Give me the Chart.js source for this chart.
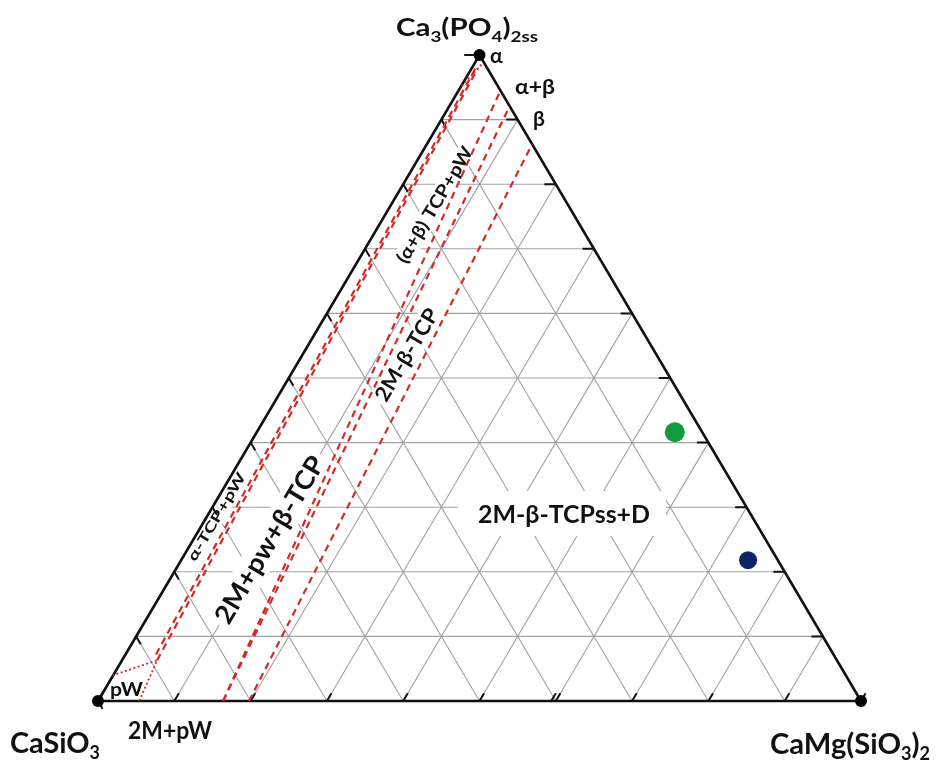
<!DOCTYPE html>
<html>
<head>
<meta charset="utf-8">
<script src="https://cdn.jsdelivr.net/npm/chart.js@4.4.1/dist/chart.umd.min.js"></script>
<style>
  html, body { margin: 0; padding: 0; background: #fff; }
  #wrap { width: 938px; height: 765px; }
</style>
</head>
<body>
<div id="wrap"><canvas id="c" width="938" height="765"></canvas></div>
<script>
// Compositions are in mol %: [Ca3(PO4)2, CaMg(SiO3)2]; CaSiO3 makes up the rest.
const gridLevels = [10, 20, 30, 40, 50, 60, 70, 80, 90];

// Phase-field boundaries, each a polyline of [Ca3(PO4)2 %, CaMg(SiO3)2 %]
const alphaLineA   = [[7.2, 4.0], [98, 0.5]];
const alphaLineB   = [[6.3, 4.6], [98, 0.8]];
const pwField      = [[0, 5.4], [6.3, 4.6], [4, 0]];
const alphaCorner  = [[98.5, 1.0], [94.9, 0]];
const alphaBetaA   = [[0, 16.4], [94.5, 5.5]];
const alphaBetaB   = [[0, 16.4], [92.1, 7.9]];
const betaLine     = [[0, 19.8], [86.2, 13.8]];

// Samples [Ca3(PO4)2 %, CaMg(SiO3)2 %]
const sampleGreen = [41.6, 54.8];
const sampleBlue  = [21.8, 74.3];

// ternary -> cartesian (unit triangle, apex at x = 0.5)
const toXY = (a, c) => ({ x: (c + a / 2) / 100, y: a / 100 });
function polylines(list) {
  const out = [];
  list.forEach((pl, i) => {
    if (i) out.push({ x: null, y: null });
    pl.forEach(p => out.push(toXY(p[0], p[1])));
  });
  return out;
}

// grid lines
const gridH = gridLevels.map(k => [[k, 0], [k, 100 - k]]);
const gridC = gridLevels.map(k => [[0, k], [100 - k, k]]);
const gridB = gridLevels.map(k => [[0, 100 - k], [100 - k, 0]]);

// edge ticks
const ticks = [];
gridLevels.forEach(k => {
  ticks.push([[0, k], [1.2, k]]);                       // bottom edge
  ticks.push([[k, 100 - k], [k, 100 - k - 1.5]]);       // right edge
  ticks.push([[100 - k, 0], [100 - k - 1.2, 1.2]]);     // left edge
});
ticks.push([[0, 59.4], [1.2, 59.4]]);
ticks.push([[100, 0], [100, -2]]);
ticks.push([[0, 0], [-1.2, 1.2]]);
ticks.push([[0, 100], [1.2, 100]]);

const edges = [[[0, 0], [100, 0], [0, 100], [0, 0]]];

const RED = '#d42a24';
const lineDs = (label, lines, color, width, dash, order) => ({
  label, data: polylines(lines), showLine: true, borderColor: color, borderWidth: width,
  borderDash: dash, pointRadius: 0, pointHoverRadius: 0, clip: false, order, spanGaps: false,
  borderCapStyle: 'butt'
});

const datasets = [
  lineDs('grid', [...gridH, ...gridC, ...gridB], '#a2a2a2', 1.1, [], 20),
  lineDs('ticks', ticks, '#111', 2, [], 15),
  lineDs('edges', edges, '#111', 2.6, [], 14),
  lineDs('alphaA', [alphaLineA], RED, 2.2, [7, 5], 10),
  lineDs('alphaB', [alphaLineB], RED, 2.2, [7, 5], 10),
  lineDs('abA', [alphaBetaA], RED, 2.2, [7, 5], 10),
  lineDs('abB', [alphaBetaB], RED, 2.2, [7, 5], 10),
  lineDs('beta', [betaLine], RED, 2.2, [7, 5], 10),
  lineDs('pw', [pwField, alphaCorner], RED, 1.8, [2, 2.5], 10),
  {
    label: 'vertices', data: [toXY(100, 0), toXY(0, 0), toXY(0, 100)],
    pointRadius: 6, pointBackgroundColor: '#000', pointBorderWidth: 0, clip: false, order: 3
  },
  {
    label: 'green', data: [toXY(...sampleGreen)], pointRadius: 10,
    pointBackgroundColor: '#119a3f', pointBorderWidth: 0, clip: false, order: 2
  },
  {
    label: 'blue', data: [toXY(...sampleBlue)], pointRadius: 9,
    pointBackgroundColor: '#0d2466', pointBorderWidth: 0, clip: false, order: 2
  }
];

const ANG = -Math.atan2(646, 384);
const FONT = 'Lato, "Open Sans", sans-serif';

// rich text: parts = [[text, isSub]]
function richWidth(ctx, parts, size) {
  let w = 0;
  parts.forEach(([t, sub]) => {
    ctx.font = `bold ${sub ? Math.round(size * 0.62) : size}px ${FONT}`;
    w += ctx.measureText(t).width;
  });
  return w;
}
function drawRich(ctx, parts, x, y, size, width) {
  const nat = richWidth(ctx, parts, size);
  const sx = width ? width / nat : 1;
  ctx.save();
  ctx.translate(x, y);
  ctx.scale(sx, 1);
  ctx.fillStyle = '#111';
  ctx.textBaseline = 'alphabetic';
  ctx.textAlign = 'left';
  let cx = 0;
  parts.forEach(([t, sub]) => {
    const s = sub ? Math.round(size * 0.62) : size;
    ctx.font = `bold ${s}px ${FONT}`;
    ctx.fillText(t, cx, sub ? size * 0.22 : 0);
    cx += ctx.measureText(t).width;
  });
  ctx.restore();
}
function drawRotated(ctx, text, cx, cy, size, length) {
  ctx.save();
  ctx.translate(cx, cy);
  ctx.rotate(ANG);
  ctx.font = `bold ${size}px ${FONT}`;
  const nat = ctx.measureText(text).width;
  ctx.scale(length / nat, 1);
  ctx.fillStyle = '#111';
  ctx.textAlign = 'center';
  ctx.textBaseline = 'middle';
  ctx.fillText(text, 0, 0);
  ctx.restore();
}
function whiteRotated(ctx, cx, cy, len, h) {
  ctx.save();
  ctx.translate(cx, cy);
  ctx.rotate(ANG);
  ctx.fillStyle = '#fff';
  ctx.fillRect(-len / 2, -h / 2, len, h);
  ctx.restore();
}

const labelPlugin = {
  id: 'labels',
  afterDatasetDraw(chart, args) {
    if (chart.data.datasets[args.index].label !== 'grid') return;
    const ctx = chart.ctx;
    ctx.save();
    ctx.fillStyle = '#fff';
    ctx.fillRect(458, 491, 208, 45);
    whiteRotated(ctx, 270, 540, 198, 32);
    whiteRotated(ctx, 407, 355, 112, 24);
    whiteRotated(ctx, 435, 205, 140, 20);
    whiteRotated(ctx, 217, 517, 104, 15);
    ctx.restore();
  },
  afterDatasetsDraw(chart) {
    const ctx = chart.ctx;
    drawRich(ctx, [['Ca', 0], ['3', 1], ['(PO', 0], ['4', 1], [')', 0], ['2ss', 1]], 396, 36, 25, 142);
    drawRich(ctx, [['α', 0]], 490, 63, 21);
    drawRich(ctx, [['α+β', 0]], 515, 94, 21, 40);
    drawRich(ctx, [['β', 0]], 533, 126, 21);
    drawRich(ctx, [['CaSiO', 0], ['3', 1]], 10, 753, 29, 90);
    drawRich(ctx, [['2M+pW', 0]], 128, 739, 24, 84);
    drawRich(ctx, [['CaMg(SiO', 0], ['3', 1], [')', 0], ['2', 1]], 770, 754, 29, 160);
    drawRich(ctx, [['pW', 0]], 110, 696, 19, 33);
    drawRich(ctx, [['2M-β-TCPss+D', 0]], 478, 523, 25, 172);
    drawRotated(ctx, 'α-TCP+pW', 217, 517, 14, 100);
    drawRotated(ctx, '2M+pw+β-TCP', 270, 540, 26, 190);
    drawRotated(ctx, '2M-β-TCP', 407, 355, 21, 104);
    drawRotated(ctx, '(α+β) TCP+pW', 435, 205, 18, 132);
  }
};

new Chart(document.getElementById('c'), {
  type: 'scatter',
  data: { datasets },
  options: {
    responsive: false,
    animation: false,
    devicePixelRatio: 1,
    layout: { padding: { left: 98, right: 77, top: 55, bottom: 64 } },
    scales: {
      x: { type: 'linear', min: 0, max: 1, display: false },
      y: { type: 'linear', min: 0, max: 1, display: false }
    },
    plugins: { legend: { display: false }, tooltip: { enabled: false } },
    events: []
  },
  plugins: [labelPlugin]
});
</script>
</body>
</html>
